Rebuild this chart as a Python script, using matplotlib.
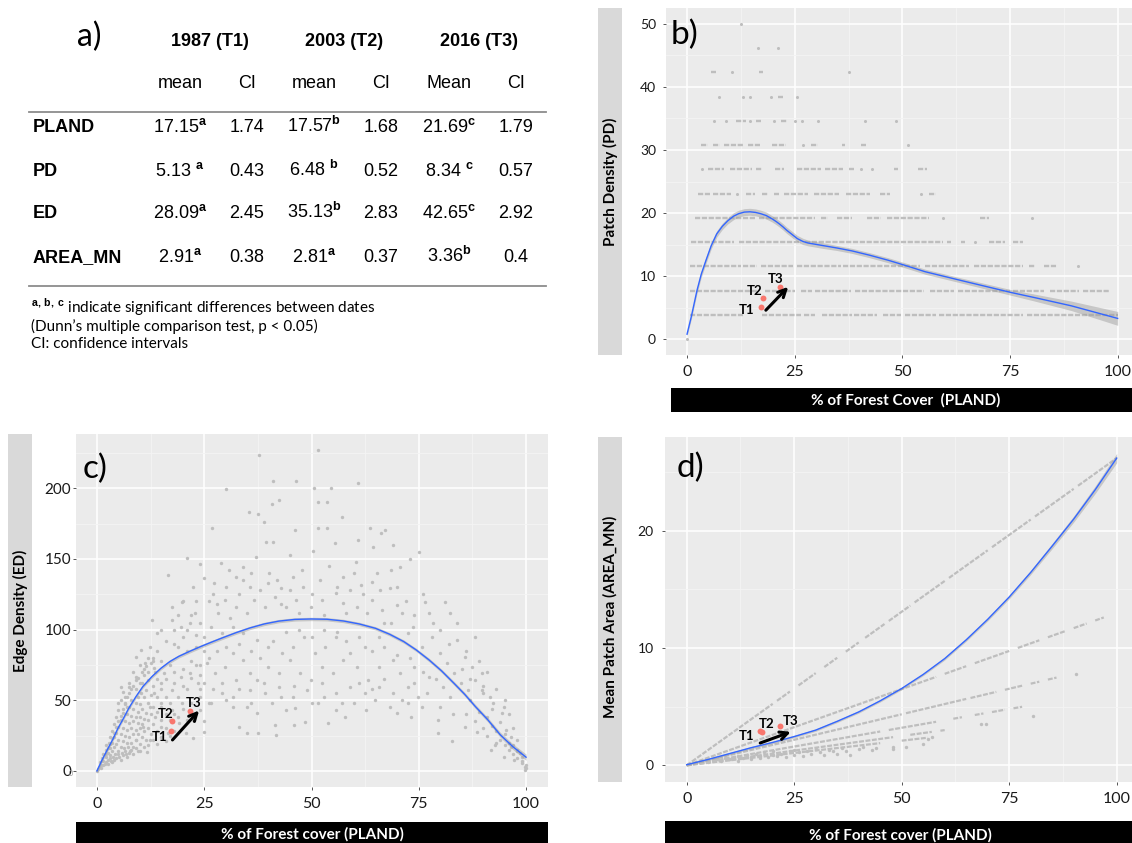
import numpy as np
import matplotlib
matplotlib.use("Agg")
import matplotlib.pyplot as plt
from matplotlib.patches import Rectangle
from matplotlib.lines import Line2D

plt.rcParams['font.family'] = ['Lato', 'DejaVu Sans']
plt.rcParams['mathtext.fontset'] = 'custom'
plt.rcParams['mathtext.rm'] = 'Liberation Sans'
plt.rcParams['mathtext.bf'] = 'Liberation Sans:bold'

# ---------------- table a) ----------------
periods = ["1987 (T1)", "2003 (T2)", "2016 (T3)"]
sub_heads = ["mean", "CI", "mean", "CI", "Mean", "CI"]
metrics = ["PLAND", "PD", "ED", "AREA_MN"]
means = [[17.15, 17.57, 21.69],
         [5.13, 6.48, 8.34],
         [28.09, 35.13, 42.65],
         [2.91, 2.81, 3.36]]
letters = [["a", "b", "c"], ["a", "b", "c"], ["a", "b", "c"], ["a", "a", "b"]]
cis = [["1.74", "1.68", "1.79"],
       ["0.43", "0.52", "0.57"],
       ["2.45", "2.83", "2.92"],
       ["0.38", "0.37", "0.4"]]
spaced = [False, True, False, False]
notes = ["${}^{\\mathbf{a,\\,b,\\,c}}$ indicate significant differences between dates",
         "(Dunn\u2019s multiple comparison test, p < 0.05)",
         "CI: confidence intervals"]
time_labels = ["T1", "T2", "T3"]

# ---------------- b) patch density ----------------
b_fit_x = [0, 1.0, 2.3, 3.3, 4.4, 5.6, 6.9, 8.2, 9.5, 10.8, 12.0, 13.3, 14.6, 15.9, 17.1,
           18.4, 19.7, 20.6, 21.4, 22.3, 23.1, 24.4, 25.6, 26.9, 28.1, 29.8, 31.5, 34.9,
           38.3, 42.5, 46.8, 50.2, 55.3, 63.7, 75.3, 80.7, 89.2, 100]
b_fit_y = [0.8, 3.6, 7.7, 10.3, 12.5, 14.8, 16.7, 17.9, 18.8, 19.5, 19.9, 20.15, 20.2, 20.1,
           19.9, 19.6, 19.1, 18.7, 18.3, 17.8, 17.3, 16.6, 15.95, 15.5, 15.25, 15.05, 14.85,
           14.45, 14.0, 13.3, 12.5, 11.8, 10.7, 9.3, 7.4, 6.6, 5.3, 3.3]
b_fit_se = [0.3, 0.4, 0.5, 0.5, 0.5, 0.5, 0.5, 0.5, 0.5, 0.55, 0.55, 0.55, 0.55, 0.55, 0.55,
            0.55, 0.5, 0.5, 0.5, 0.5, 0.5, 0.5, 0.5, 0.5, 0.45, 0.45, 0.45, 0.4, 0.4, 0.4,
            0.4, 0.4, 0.4, 0.4, 0.45, 0.55, 0.75, 1.1]
b_levels = [3.85, 7.69, 11.54, 15.38, 19.23, 23.08, 26.92, 30.77, 34.62, 38.46, 42.31, 46.15, 50.0]
b_runs = [
    [(0.6, 12.9), (17.5, 26.4), (27.1, 29.8), (31.4, 38.3), (38.7, 44.2), (45.5, 49.7),
     (50.6, 57.8), (58.6, 78.1), (79.0, 100.0)],
    [(0.6, 16.3), (18.0, 25.0), (26.5, 29.0), (29.8, 38.0), (39.0, 55.0), (56.5, 62.0),
     (62.9, 75.0), (75.8, 83.0), (84.2, 91.0), (92.0, 98.0)],
    [(0.6, 12.5), (12.9, 16.3), (17.1, 24.7), (25.6, 35.8), (36.2, 54.0), (55.3, 65.4),
     (66.7, 78.1), (79.4, 80.7), (82.8, 85.8), (90.7, 90.7)],
    [(1.0, 10.8), (12.0, 26.4), (27.3, 59.5), (60.3, 61.2), (63.7, 64.6), (66.9, 66.9),
     (70.1, 73.9), (75.6, 78.1)],
    [(1.9, 15.8), (16.7, 29.8), (31.1, 32.8), (34.9, 38.3), (41.7, 45.1), (46.4, 56.1),
     (59.5, 59.5), (68.0, 70.1), (80.0, 80.0)],
    [(2.5, 5.3), (6.1, 10.3), (11.7, 11.7), (13.7, 15.8), (17.5, 18.8), (20.1, 21.4),
     (22.6, 28.1), (29.4, 35.3), (37.0, 42.5), (44.7, 47.2), (54.4, 54.4), (56.1, 57.8)],
    [(3.4, 3.4), (4.8, 8.6), (9.9, 15.0), (16.0, 17.5), (20.5, 22.6), (25.6, 31.1),
     (32.1, 36.2), (37.7, 38.7), (40.3, 40.3), (43.0, 43.0), (48.1, 48.9), (53.6, 55.7)],
    [(3.3, 4.8), (6.1, 7.6), (8.6, 12.9), (14.2, 16.9), (19.7, 22.9), (26.9, 26.9),
     (28.8, 30.3), (35.9, 36.6), (40.4, 41.5), (51.2, 51.2)],
    [(6.3, 6.3), (9.1, 9.1), (11.4, 13.7), (14.7, 14.7), (16.0, 17.1), (20.3, 20.3),
     (21.8, 23.1), (25.0, 25.0), (26.8, 26.8), (30.3, 30.3), (41.3, 41.3), (48.5, 48.5)],
    [(7.4, 7.4), (12.9, 12.9), (14.6, 14.6), (19.4, 19.4), (21.2, 22.2), (25.6, 25.6)],
    [(5.5, 6.8), (10.5, 10.5), (16.7, 17.7), (37.7, 37.7)],
    [(16.4, 16.4), (21.2, 21.2)],
    [(12.5, 12.5)],
]

# ---------------- c) edge density ----------------
c_fit_x = [0, 1.2, 2.4, 3.7, 4.9, 6.2, 7.4, 9.1, 10.7, 12.8, 14.9, 17.0, 19.1, 21.6, 24.1,
           26.6, 29.1, 32.4, 35.7, 39.0, 42.4, 46.1, 49.9, 53.6, 57.4, 61.1, 64.9, 68.2,
           71.5, 74.4, 77.4, 80.3, 83.2, 85.7, 88.2, 91.1, 94.0, 96.9, 100]
c_fit_y = [0, 7.8, 14.9, 22.4, 30.2, 37.3, 44.3, 52.6, 59.7, 66.7, 72.6, 77.4, 81.1, 84.6,
           87.9, 91.0, 94.0, 97.8, 101.2, 104.0, 106.0, 107.2, 107.5, 107.3, 106.1, 104.0,
           100.9, 96.7, 91.5, 85.6, 78.5, 70.8, 62.0, 54.2, 45.5, 36.1, 25.5, 17.2, 9.7]
c_fit_se = [1.5, 1.5, 1.4, 1.4, 1.3, 1.3, 1.3, 1.3, 1.2, 1.2, 1.2, 1.2, 1.2, 1.2, 1.2, 1.2,
            1.2, 1.2, 1.2, 1.2, 1.2, 1.2, 1.2, 1.2, 1.2, 1.2, 1.2, 1.2, 1.2, 1.2, 1.3, 1.3,
            1.4, 1.4, 1.5, 1.6, 1.8, 2.0, 2.2]
c_points = [
    (37.8, 223.6), (51.5, 227.1), (30.1, 199.3), (41.1, 205.2), (46.4, 205.2), (50.5, 200.5),
    (54.5, 200.5), (60.9, 204.0), (51.5, 190.6), (53.6, 190.6), (42.4, 191.7), (40.7, 188.9),
    (35.5, 183.5), (37.6, 181.8), (57.2, 179.9), (38.9, 176.4), (26.7, 171.7), (46.1, 170.5),
    (51.5, 171.7), (53.6, 171.7), (63.7, 171.7), (67.1, 170.5), (66.1, 168.2), (39.5, 162.3),
    (41.1, 162.3), (55.5, 161.1), (60.9, 163.4), (64.4, 158.7), (69.0, 159.9), (50.3, 155.7),
    (75.1, 155.2), (73.0, 149.8), (21.1, 150.9), (23.9, 146.2), (28.9, 147.4), (16.6, 138.7),
    (30.7, 142.2), (34.1, 144.6), (37.0, 151.7), (44.9, 152.8), (47.8, 142.2), (68.6, 142.2),
    (65.3, 139.9), (70.7, 144.6), (24.9, 136.3), (27.2, 132.8), (32.4, 137.5), (35.7, 130.4),
    (39.9, 132.8), (42.8, 129.2), (45.7, 137.5), (57.4, 137.5), (60.3, 148.1), (64.0, 134.0),
    (68.2, 129.2), (22.4, 130.4), (19.9, 119.8), (17.4, 116.3), (22.8, 111.6), (21.6, 104.5),
    (19.5, 102.1), (17.4, 106.8), (12.8, 106.8), (14.1, 97.4), (12.4, 88.0), (10.3, 85.6),
    (9.1, 80.9), (11.2, 76.2), (13.2, 72.6), (15.7, 69.1), (14.9, 62.0), (17.4, 57.3),
    (19.5, 66.7), (21.6, 69.1), (23.6, 62.0), (25.7, 76.2), (27.4, 69.1), (29.1, 62.0),
    (31.6, 52.6), (34.9, 45.5), (33.2, 31.4), (34.9, 26.7), (37.6, 26.7), (41.4, 32.5),
    (41.8, 25.5), (45.9, 32.5), (46.1, 44.3), (48.4, 34.9), (53.9, 33.7), (57.8, 38.4),
    (62.8, 43.2), (68.2, 45.5), (69.9, 40.8), (73.2, 38.4), (75.7, 45.5), (79.4, 26.7),
    (82.8, 20.8), (79.4, 36.1), (85.7, 31.4), (88.6, 27.8), (91.9, 14.9), (92.8, 18.4),
    (94.8, 10.1), (96.5, 17.2), (97.3, 7.8), (99.0, 5.4), (99.8, 0.7), (99.8, 3.1),
    (98.6, 12.5), (97.8, 14.9), (96.5, 24.3), (95.3, 29.0), (94.0, 34.9), (94.4, 40.8),
    (94.8, 45.5), (92.3, 47.9), (91.5, 52.6), (89.8, 57.3), (88.2, 64.4), (89.8, 69.1),
    (87.3, 73.8), (85.7, 80.9), (88.2, 95.0), (84.0, 92.7), (82.3, 111.6), (81.1, 119.8),
    (77.4, 111.6), (76.5, 119.8), (78.2, 104.5), (73.6, 102.1), (72.4, 97.4), (75.7, 88.0),
    (79.9, 83.3), (81.5, 76.2), (83.2, 69.1), (84.8, 62.0), (86.5, 57.3), (82.3, 52.6),
    (80.7, 59.7), (77.4, 66.7), (74.0, 73.8), (70.7, 69.1), (69.0, 78.5), (65.7, 73.8),
    (63.2, 64.4), (60.7, 73.8), (59.0, 83.3), (62.4, 88.0), (65.7, 95.0), (68.6, 104.5),
    (66.5, 113.9), (69.9, 117.5), (64.0, 121.0), (60.7, 116.3), (57.4, 118.6), (55.7, 125.7),
    (59.0, 128.1), (61.5, 131.6), (52.4, 121.0), (49.9, 116.3), (46.5, 121.0), (44.0, 116.3),
    (41.5, 123.3), (39.1, 116.3), (36.6, 121.0), (34.9, 111.6), (32.4, 116.3), (29.9, 121.0),
    (28.2, 111.6), (26.6, 102.1), (29.1, 97.4), (31.6, 102.1), (34.1, 97.4), (37.4, 92.7),
    (39.9, 88.0), (43.2, 83.3), (45.7, 88.0), (48.2, 95.0), (50.7, 83.3), (53.2, 88.0),
    (55.7, 95.0), (57.4, 78.5), (54.9, 69.1), (52.4, 73.8), (49.9, 64.4), (47.4, 69.1),
    (44.9, 78.5), (42.4, 69.1), (39.9, 73.8), (37.4, 64.4), (35.7, 69.1), (34.1, 78.5),
    (31.6, 83.3), (29.9, 73.8), (32.4, 64.4), (35.7, 57.3), (39.1, 55.0), (42.4, 59.7),
    (45.7, 52.6), (49.0, 57.3), (52.4, 62.0), (55.7, 55.0), (59.0, 59.7), (62.4, 55.0),
    (65.7, 59.7), (69.0, 55.0), (72.4, 59.7), (74.9, 52.6), (72.4, 47.9), (64.9, 50.2),
    (59.9, 47.9), (55.7, 43.2), (51.5, 47.9), (44.0, 43.2), (40.7, 47.9), (37.4, 40.8),
    (31.6, 45.5), (29.1, 55.0), (26.6, 47.9), (24.1, 43.2), (24.1, 52.6), (22.4, 36.1),
    (20.7, 26.7), (22.4, 23.1), (24.9, 27.8), (19.1, 33.7), (16.6, 26.7), (14.9, 31.4),
    (12.4, 21.9), (10.7, 31.4), (11.6, 13.7), (9.1, 21.9), (9.1, 38.4), (12.4, 45.5),
    (14.9, 47.9), (17.4, 43.2), (19.9, 47.9), (13.2, 55.0), (10.3, 55.0), (7.4, 59.7),
    (9.1, 66.7), (5.7, 59.7), (4.9, 47.9), (6.6, 52.6),
    (0.5, 3), (0.8, 6), (1, 4), (1.2, 9), (1.5, 7), (1.5, 12), (1.8, 5), (2, 10), (2, 15),
    (2.2, 18), (2.5, 8), (2.5, 13), (2.8, 20), (3, 11), (3, 16), (3, 24), (3.2, 7), (3.5, 14),
    (3.5, 20), (3.5, 28), (3.8, 10), (4, 17), (4, 24), (4, 33), (4.2, 12), (4.5, 19), (4.5, 27),
    (4.5, 38), (4.8, 14), (5, 22), (5, 31), (5, 43), (5.2, 10), (5.5, 17), (5.5, 26), (5.5, 36),
    (5.5, 50), (5.8, 13), (6, 21), (6, 30), (6, 41), (6, 56), (6.3, 16), (6.5, 25), (6.5, 35),
    (6.5, 47), (6.8, 12), (7, 20), (7, 29), (7, 40), (7, 52), (7.3, 17), (7.5, 24), (7.5, 34),
    (7.5, 45), (7.5, 62), (7.8, 14), (8, 20), (8, 30), (8, 39), (8, 50), (8.3, 26), (8.5, 17),
    (8.5, 35), (8.5, 44), (8.5, 70), (9, 22), (9, 29), (9, 48), (9, 58), (9.5, 26), (9.5, 34),
    (9.5, 42), (9.5, 52), (10, 19), (10, 30), (10, 38), (10, 47), (10, 75), (10.5, 24),
    (10.5, 33), (10.5, 44), (10.5, 62), (11, 28), (11, 37), (11, 52), (11, 68), (11.5, 22),
    (11.5, 41), (11.5, 57), (12, 30), (12, 36), (12, 48), (12, 64), (12, 80), (12.5, 26),
    (12.5, 40), (12.5, 54), (13, 33), (13, 45), (13, 60), (13.5, 38), (13.5, 70), (14, 28),
    (14, 42), (14, 52), (14, 85), (15, 36), (15, 45), (15, 58), (15, 78), (16, 30), (16, 40),
    (16, 65), (17, 36), (17, 48), (18, 28), (18, 40), (18, 62), (18, 90), (19, 38), (19, 52),
    (20, 44), (20, 72), (20, 95), (21, 36), (21, 58), (21, 85), (22, 48), (22, 66), (22, 110),
    (23, 40), (23, 75), (23, 96), (24, 58), (24, 68), (24, 105), (25, 35), (25, 62), (25, 85),
    (26, 48), (26, 120), (0.2, 1), (0, 0),
    (86, 40), (87, 50), (88, 35), (89, 42), (90, 30), (90, 55), (91, 38), (91, 25), (92, 32),
    (92, 44), (93, 28), (93, 20), (94, 22), (95, 18), (95, 26), (96, 15), (96, 20), (97, 12),
    (97, 18), (98, 9), (98, 14), (99, 7), (99, 10), (100, 2), (100, 4),
    (27, 125), (28, 118), (30, 130), (31, 108), (33, 125), (34, 135), (36, 140), (38, 128),
    (40, 140), (42, 135), (43, 118), (45, 128), (47, 112), (48, 130), (50, 125), (52, 135),
    (53, 110), (54, 145), (56, 130), (58, 112), (60, 140), (62, 125), (63, 112), (66, 128),
    (67, 105), (70, 130), (71, 112), (72, 120), (74, 110), (76, 125), (78, 95), (80, 100),
    (82, 90), (84, 105), (86, 85), (85, 72), (87, 65), (89, 78), (90, 60), (91, 70), (93, 58),
    (95, 50), (96, 40), (97, 30), (98, 22),
    (26, 80), (28, 85), (30, 88), (33, 90), (36, 85), (38, 80), (41, 92), (44, 98), (47, 100),
    (50, 95), (53, 100), (56, 98), (58, 92), (61, 95), (64, 85), (67, 88), (70, 82), (73, 80),
    (76, 70), (79, 65),
    (27, 58), (30, 50), (33, 58), (36, 48), (39, 62), (43, 52), (46, 60), (50, 48), (53, 52),
    (57, 48), (61, 62), (64, 58), (67, 65), (71, 50), (74, 62), (77, 55), (80, 45), (83, 40),
    (18, 70), (19, 88), (20, 60), (21, 100), (22, 78), (23, 88), (24, 75), (25, 95), (16, 92),
    (15, 100), (14, 65), (13, 78), (16, 52), (17, 75), (19, 110), (20, 120), (23, 120),
    (18, 100),
    (2, 12), (2.5, 16), (3, 19), (3.5, 23), (4, 27), (4.5, 31), (5, 35), (5.5, 39), (6, 44),
    (6.5, 48), (7, 45), (7.5, 55), (8, 58), (8.5, 60), (9, 64), (9.5, 66), (10, 62),
    (10.5, 70), (11, 72), (11.5, 74), (12, 70), (12.5, 76), (13, 80), (1, 2), (1.5, 4),
    (2, 6), (2.5, 5), (3, 9), (3.5, 6), (4, 8), (4.5, 9), (5, 12), (5.5, 8), (6, 11),
    (6.5, 14), (7, 10), (7.5, 13), (8, 15), (8.5, 12), (9, 16), (9.5, 14), (10, 14), (11, 17),
    (12, 18), (13, 22), (14, 19), (15, 24), (16, 21), (17, 25),
]

# ---------------- d) mean patch area ----------------
d_fit_x = [0, 5, 10, 15, 20, 25, 30, 35, 40, 45, 50, 55, 60, 65, 70, 75, 80, 85, 90, 95, 100]
d_fit_y = [0.05, 0.5, 1.0, 1.5, 1.95, 2.45, 3.0, 3.75, 4.55, 5.5, 6.55, 7.75, 9.1, 10.7,
           12.45, 14.35, 16.45, 18.7, 21.0, 23.5, 26.2]
d_fit_se = [0.12, 0.1, 0.1, 0.1, 0.1, 0.1, 0.1, 0.1, 0.1, 0.1, 0.1, 0.1, 0.12, 0.12, 0.13,
            0.15, 0.18, 0.22, 0.26, 0.32, 0.4]
# runs of points along the rays: (x0, y0, x1, y1)
d_runs = [
    (0, 0, 20, 5.24), (21, 5.5, 24, 6.29), (26, 6.81, 30, 7.86), (32, 8.38, 35, 9.17),
    (37, 9.69, 40, 10.48), (41.5, 10.87, 46, 12.05), (47, 12.31, 52, 13.62),
    (53, 13.89, 60, 15.72), (61, 15.98, 70, 18.34), (71, 18.6, 80, 20.96),
    (81, 21.22, 90, 23.58), (91, 23.84, 100, 26.2),
    (0, 0, 58, 7.54), (60, 7.8, 65, 8.45), (67, 8.71, 75, 9.75), (77, 10.01, 82, 10.66),
    (84, 10.92, 88, 11.44), (90, 11.7, 93, 12.09), (95, 12.35, 97, 12.61),
    (0, 0, 50, 4.35), (51, 4.44, 65, 5.66), (66, 5.74, 72, 6.26), (74, 6.44, 78, 6.79),
    (80, 6.96, 82, 7.13), (84, 7.31, 86, 7.48),
    (0, 0, 45, 2.88), (47, 3.01, 58, 3.71), (62, 3.97, 64, 4.1), (67, 4.29, 69, 4.42),
    (71, 4.54, 74, 4.74), (76, 4.86, 78, 4.99),
    (0, 0, 48, 2.4), (52, 2.6, 57, 2.85), (59, 2.95, 60, 3.0),
    (0, 0, 45, 1.89), (50, 2.1, 56, 2.35),
]
d_points = [
    (68.5, 3.5), (69.5, 3.55), (80.5, 4.2), (90.6, 7.8),
    (5, 0.3), (7, 0.5), (8, 0.4), (9, 0.6), (10, 0.5), (11, 0.7), (12, 0.4), (12, 0.8),
    (13, 0.6), (14, 0.9), (15, 0.5), (15, 0.7), (16, 1.0), (17, 0.6), (17, 0.8), (18, 1.1),
    (19, 0.7), (20, 0.9), (20, 1.2), (21, 0.8), (22, 1.0), (23, 0.7), (24, 1.2), (25, 0.9),
    (25, 1.3), (26, 1.1), (27, 0.8), (28, 1.2), (29, 1.0), (30, 1.4), (31, 1.1), (32, 0.9),
    (33, 1.3), (34, 1.2), (35, 1.0), (36, 1.5), (37, 1.2), (38, 0.9), (40, 1.4), (41, 1.6),
    (43, 1.3), (44, 1.5), (48, 1.6), (48, 1.4), (51, 1.6), (55, 1.8), (56, 2.2), (57, 2.4),
]

W, H = 1132, 843
fig = plt.figure(figsize=(W / 100, H / 100), dpi=100)

PT_GREY = '#BEBEBE'
RED = '#F8766D'
BLUE = '#3366FF'
TAB = 'Liberation Sans'
ROW_DASH = (0, (2.2, 0.7))


def fx(x):
    return x / W


def fy(y):
    return 1 - y / H


def add_axes(left, right, top, bottom):
    return fig.add_axes([fx(left), fy(bottom), (right - left) / W, (bottom - top) / H])


def rect(x0, y0, x1, y1, color):
    fig.add_artist(Rectangle((fx(x0), fy(y1)), (x1 - x0) / W, (y1 - y0) / H,
                             transform=fig.transFigure, facecolor=color,
                             edgecolor='none', zorder=0))


def style(ax, ylim, yticks, yminor, ysize, ypad):
    ax.set_facecolor('#EBEBEB')
    ax.set_xlim(-5, 105)
    ax.set_ylim(*ylim)
    ax.set_xticks([0, 25, 50, 75, 100])
    ax.set_xticks([12.5, 37.5, 62.5, 87.5], minor=True)
    ax.set_yticks(yticks)
    ax.set_yticks(yminor, minor=True)
    ax.grid(which='major', color='white', lw=1.1)
    ax.grid(which='minor', color='#F4F4F4', lw=0.6)
    ax.set_axisbelow(True)
    for s in ax.spines.values():
        s.set_visible(False)
    ax.tick_params(which='minor', length=0)
    ax.tick_params(which='major', length=2.5, width=0.7, color='#555555',
                   labelcolor='#1a1a1a')
    ax.tick_params(axis='x', labelsize=11.5, pad=5)
    ax.tick_params(axis='y', labelsize=ysize, pad=ypad)


def smooth(ax, xs, ys, se):
    xs = np.array(xs)
    ys = np.array(ys)
    se = np.array(se)
    ax.fill_between(xs, ys - se, ys + se, color='#999999', alpha=0.45, lw=0, zorder=3)
    ax.plot(xs, ys, color=BLUE, lw=1.0, zorder=4, solid_joinstyle='round')


def markers(ax, ys, arrow, label_pos):
    ax.scatter(means[0], ys, s=18, color=RED, lw=0, zorder=5)
    ax.annotate('', xy=arrow[1], xytext=arrow[0],
                arrowprops=dict(arrowstyle='->', color='black', lw=2.2,
                                mutation_scale=14, shrinkA=0, shrinkB=0), zorder=6)
    for lab, pos in zip(time_labels, label_pos):
        ax.text(pos[0], pos[1], lab, fontsize=9.5, fontweight='bold',
                ha='center', va='center', zorder=6)


# ---- a) table ----
fig.text(fx(89), fy(37), 'a)', fontsize=23, ha='center', va='center')
period_x = [210, 344, 479]
col_x = [180, 247, 314, 381, 449, 516]
row_y = [126, 169, 212, 256]
for p, px in zip(periods, period_x):
    fig.text(fx(px), fy(45.5), p, family=TAB, fontsize=13, weight='bold', ha='center',
             va='baseline')
for s, px in zip(sub_heads, col_x):
    fig.text(fx(px), fy(88.5), s, family=TAB, fontsize=13, ha='center', va='baseline')
fig.add_artist(Line2D([fx(29), fx(546)], [fy(112), fy(112)], color='#8c8c8c', lw=1.3))
fig.add_artist(Line2D([fx(29), fx(546)], [fy(286), fy(286)], color='#8c8c8c', lw=1.3))
for r, m in enumerate(metrics):
    base = fy(row_y[r] + 6.5)
    fig.text(fx(33), base, m, family=TAB, fontsize=13, weight='bold', ha='left',
             va='baseline')
    for j in range(3):
        gap = ' ' if spaced[r] else ''
        txt = f"{means[r][j]:.2f}" + gap + "${}^{\\mathbf{" + letters[r][j] + "}}$"
        fig.text(fx(col_x[2 * j]), base, txt, family=TAB, fontsize=13, ha='center',
                 va='baseline')
        fig.text(fx(col_x[2 * j + 1]), base, cis[r][j], family=TAB, fontsize=13,
                 ha='center', va='baseline')
for note, by in zip(notes, [313, 331, 348]):
    fig.text(fx(31), fy(by), note, fontsize=11, ha='left', va='baseline')

# ---- b) ----
axb = add_axes(665.5, 1139.2, 8, 355)
style(axb, (-2.5, 52.5), [0, 10, 20, 30, 40, 50], [5, 15, 25, 35, 45], 10, 4.3)
for lev, runs in zip(b_levels, b_runs):
    for x0, x1 in runs:
        if x1 > x0:
            axb.plot([x0, x1], [lev, lev], color=PT_GREY, lw=1.7, ls=ROW_DASH,
                     dash_capstyle='butt', zorder=2)
        else:
            axb.scatter([x0], [lev], s=5, color=PT_GREY, lw=0, zorder=2)
axb.scatter([0], [0], s=5, color=PT_GREY, lw=0, zorder=2)
smooth(axb, b_fit_x, b_fit_y, b_fit_se)
markers(axb, means[1], [(18.3, 4.6), (23.5, 8.3)], [(13.9, 4.7), (15.6, 7.7), (20.5, 9.5)])
axb.text(-0.7, 48.3, 'b)', fontsize=24, ha='center', va='center')
rect(598, 8, 622, 355, '#D9D9D9')
fig.text(fx(610), fy(182), 'Patch Density (PD)', rotation=90, fontsize=11,
         fontweight='bold', ha='center', va='center')
rect(671, 388, 1140, 412, 'black')
fig.text(fx(906), fy(400), '% of Forest Cover  (PLAND)', color='white', fontsize=11,
         fontweight='bold', ha='center', va='center')

# ---- c) ----
axc = add_axes(75.5, 547.5, 434, 787)
style(axc, (-11.4, 238.4), [0, 50, 100, 150, 200], [25, 75, 125, 175, 225], 11, 0.8)
cx, cy = zip(*c_points)
axc.scatter(cx, cy, s=6, color=PT_GREY, lw=0, zorder=2)
smooth(axc, c_fit_x, c_fit_y, c_fit_se)
markers(axc, means[2], [(17.6, 21.9), (23.8, 42.7)], [(14.5, 24.3), (15.9, 40.1), (22.6, 47.9)])
axc.text(-0.5, 213.7, 'c)', fontsize=24, ha='center', va='center')
fig.text(fx(71), fy(774), '0', fontsize=5, color='#9a9a9a', ha='center', va='center')
rect(8, 434, 32, 787, '#D9D9D9')
fig.text(fx(20), fy(611), 'Edge Density (ED)', rotation=90, fontsize=11,
         fontweight='bold', ha='center', va='center')
rect(76, 822, 548, 843, 'black')
fig.text(fx(312), fy(834), '% of Forest cover (PLAND)', color='white', fontsize=11,
         fontweight='bold', ha='center', va='center')

# ---- d) ----
axd = add_axes(665.2, 1138.2, 437, 781.7)
style(axd, (-1.4, 28.0), [0, 10, 20], [5, 15, 25], 10, 5.8)
for x0, y0, x1, y1 in d_runs:
    axd.plot([x0, x1], [y0, y1], color=PT_GREY, lw=1.6, ls=ROW_DASH, dash_capstyle='butt',
             zorder=2)
dx, dy = zip(*d_points)
axd.scatter(dx, dy, s=6, color=PT_GREY, lw=0, zorder=2)
smooth(axd, d_fit_x, d_fit_y, d_fit_se)
markers(axd, means[3], [(17.1, 1.9), (24.2, 2.85)], [(13.9, 2.5), (18.6, 3.5), (24.1, 3.76)])
axd.text(0.8, 25.4, 'd)', fontsize=24, ha='center', va='center')
rect(598, 437, 622, 782, '#D9D9D9')
fig.text(fx(610), fy(617), 'Mean Patch Area (AREA_MN)', rotation=90, fontsize=11,
         fontweight='bold', ha='center', va='center')
rect(665, 821, 1140, 843, 'black')
fig.text(fx(900), fy(835), '% of Forest cover (PLAND)', color='white', fontsize=11,
         fontweight='bold', ha='center', va='center')

fig.savefig('out.png', dpi=100)
